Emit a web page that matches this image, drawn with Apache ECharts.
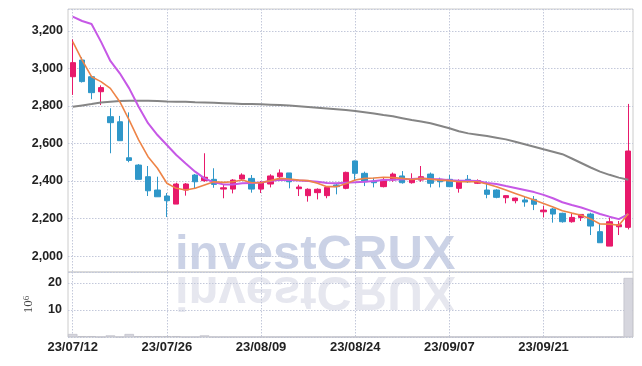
<!DOCTYPE html>
<html>
<head>
<meta charset="utf-8">
<script src="https://cdn.jsdelivr.net/npm/echarts@6/dist/echarts.min.js"></script>
<style>
  html, body { margin: 0; padding: 0; background: #fff; }
  #chart { width: 642px; height: 366px; }
</style>
</head>
<body>
<div id="chart"></div>
<script>
const dates = [
  "23/07/12", "23/07/13", "23/07/14", "23/07/17", "23/07/18", "23/07/19", "23/07/20", "23/07/21", "23/07/24", "23/07/25",
  "23/07/26", "23/07/27", "23/07/28", "23/07/31", "23/08/01", "23/08/02", "23/08/03", "23/08/04", "23/08/07", "23/08/08",
  "23/08/09", "23/08/10", "23/08/11", "23/08/14", "23/08/16", "23/08/17", "23/08/18", "23/08/21", "23/08/22", "23/08/23",
  "23/08/24", "23/08/25", "23/08/28", "23/08/29", "23/08/30", "23/08/31", "23/09/01", "23/09/04", "23/09/05", "23/09/06",
  "23/09/07", "23/09/08", "23/09/11", "23/09/12", "23/09/13", "23/09/14", "23/09/15", "23/09/18", "23/09/19", "23/09/20",
  "23/09/21", "23/09/22", "23/09/25", "23/09/26", "23/09/27", "23/10/04", "23/10/05", "23/10/06", "23/10/10", "23/10/11"
]

const opens = [
  2956, 3045, 2956, 2876, 2743, 2716, 2524, 2485, 2423, 2352,
  2320, 2277, 2352, 2432, 2402, 2409, 2357, 2357, 2411, 2414,
  2357, 2384, 2423, 2443, 2359, 2322, 2338, 2322, 2379, 2361,
  2507, 2441, 2400, 2370, 2405, 2427, 2391, 2405, 2437, 2409,
  2409, 2361, 2409, 2388, 2352, 2352, 2311, 2295, 2299, 2302,
  2236, 2251, 2228, 2183, 2206, 2224, 2130, 2053, 2156, 2153
]
const closes = [
  3031, 2930, 2871, 2898, 2711, 2615, 2510, 2409, 2348, 2316,
  2295, 2384, 2384, 2396, 2420, 2382, 2364, 2405, 2432, 2357,
  2393, 2427, 2443, 2396, 2368, 2356, 2356, 2366, 2370, 2446,
  2441, 2396, 2391, 2405, 2437, 2391, 2409, 2423, 2388, 2396,
  2370, 2400, 2396, 2402, 2329, 2313, 2322, 2309, 2288, 2276,
  2245, 2224, 2183, 2206, 2222, 2160, 2071, 2183, 2167, 2560
]
const lows = [
  2859, 2925, 2836, 2805, 2548, 2615, 2500, 2409, 2320, 2315,
  2208, 2277, 2322, 2361, 2396, 2364, 2308, 2334, 2405, 2338,
  2336, 2366, 2402, 2361, 2320, 2290, 2302, 2308, 2329, 2356,
  2405, 2373, 2366, 2366, 2396, 2386, 2386, 2396, 2366, 2366,
  2370, 2338, 2390, 2384, 2308, 2308, 2281, 2281, 2263, 2245,
  2206, 2178, 2178, 2178, 2187, 2112, 2071, 2053, 2112, 2142
]
const highs = [
  3155, 3060, 2960, 2910, 2788, 2747, 2766, 2490, 2480, 2423,
  2336, 2391, 2389, 2437, 2548, 2468, 2380, 2410, 2441, 2432,
  2400, 2436, 2462, 2443, 2380, 2361, 2361, 2368, 2388, 2450,
  2509, 2450, 2418, 2420, 2445, 2453, 2441, 2480, 2445, 2418,
  2432, 2409, 2432, 2409, 2398, 2356, 2324, 2312, 2320, 2320,
  2268, 2256, 2231, 2228, 2224, 2231, 2171, 2206, 2187, 2811
]

const ma5 = [
  3143, 3045, 2956, 2930, 2894, 2823, 2725, 2619, 2530, 2468,
  2388, 2361, 2352, 2361, 2379, 2396, 2393, 2396, 2405, 2391,
  2391, 2402, 2414, 2411, 2405, 2402, 2388, 2370, 2370, 2385,
  2405, 2414, 2416, 2420, 2418, 2414, 2408, 2414, 2410, 2405,
  2402, 2396, 2396, 2396, 2384, 2370, 2352, 2334, 2316, 2299,
  2280, 2262, 2242, 2229, 2218, 2198, 2171, 2170, 2164, 2226
]
const ma10 = [
  3276, 3253, 3237, 3143, 3040, 2974, 2894, 2796, 2708, 2645,
  2592, 2539, 2494, 2450, 2414, 2393, 2382, 2382, 2388, 2390,
  2392, 2400, 2407, 2405, 2403, 2400, 2396, 2390, 2388, 2391,
  2393, 2396, 2400, 2405, 2407, 2410, 2411, 2414, 2411, 2409,
  2404, 2402, 2402, 2400, 2389, 2384, 2373, 2363, 2352, 2341,
  2326, 2308, 2287, 2272, 2259, 2242, 2224, 2210, 2197, 2224
]
const ma60 = [
  2796, 2803, 2810, 2818, 2823, 2826, 2828, 2828, 2828, 2826,
  2824, 2823, 2822, 2820, 2819, 2817, 2815, 2813, 2811, 2810,
  2809, 2807, 2805, 2802, 2799, 2795, 2791, 2787, 2783, 2778,
  2773, 2767, 2760, 2752, 2745, 2735, 2725, 2717, 2708, 2695,
  2681, 2665, 2654, 2647, 2640, 2631, 2622, 2609, 2596, 2583,
  2569, 2556, 2543, 2520, 2496, 2472, 2450, 2433, 2418, 2407
]

// volume in millions
const volumes = [
  1.1, 0.3, 0.3, 0.05, 0.6, 0.05, 1.1, 0.3, 0.3, 0.3,
  0.3, 0.3, 0.05, 0.05, 0.6, 0.05, 0.05, 0.05, 0.05, 0.05,
  0.05, 0.05, 0.05, 0.05, 0.05, 0.05, 0.05, 0.05, 0.05, 0.05,
  0.05, 0.05, 0.05, 0.05, 0.05, 0.05, 0.05, 0.05, 0.05, 0.05,
  0.05, 0.05, 0.05, 0.05, 0.05, 0.05, 0.05, 0.05, 0.05, 0.05,
  0.05, 0.05, 0.05, 0.05, 0.05, 0.05, 0.05, 0.05, 0.05, 21.8
]

const candles = dates.map((d, i) => [opens[i], closes[i], lows[i], highs[i]])

const gridLine = { show: true, lineStyle: { color: "#c3c8da", type: [1.5, 1.5], width: 1 } }
const yLabel = { fontFamily: "Liberation Sans", fontWeight: "bold", fontSize: 12.5, color: "#222" }

const chart = echarts.init(document.getElementById("chart"))

chart.setOption({
  animation: false,
  graphic: [
    {
      type: "text",
      x: 175,
      y: 255,
      z: -1,
      style: {
        text: "investCRUX",
        font: "bold 49px 'Liberation Sans', sans-serif",
        fill: "#cbd2e6",
        verticalAlign: "middle",
      },
    },
    {
      type: "text",
      x: 175,
      y: 290.5,
      scaleY: -1,
      z: -1,
      style: {
        text: "investCRUX",
        font: "bold 49px 'Liberation Sans', sans-serif",
        fill: "#e6e7ef",
        verticalAlign: "middle",
      },
    },
  ],
  grid: [
    { left: 68, top: 9, width: 565, height: 263, show: true, borderColor: "#cccccc", borderWidth: 1 },
    { left: 68, top: 272, width: 565, height: 65, show: true, borderColor: "#cccccc", borderWidth: 1 },
  ],
  xAxis: [
    {
      type: "category",
      gridIndex: 0,
      data: dates,
      boundaryGap: true,
      axisLine: { show: false },
      axisTick: { show: false },
      axisLabel: { show: false },
      splitLine: { ...gridLine, interval: 9, alignWithLabel: true },
    },
    {
      type: "category",
      gridIndex: 1,
      data: dates,
      boundaryGap: true,
      axisLine: { show: false },
      axisTick: { show: false },
      axisLabel: {
        interval: 9,
        margin: 4,
        fontFamily: "'Liberation Sans', sans-serif",
        fontWeight: "bold",
        fontSize: 13,
        color: "#222",
      },
      splitLine: { ...gridLine, interval: 9, alignWithLabel: true },
    },
  ],
  yAxis: [
    {
      type: "value",
      gridIndex: 0,
      min: 1915,
      max: 3317,
      splitNumber: 7,
      minInterval: 200,
      maxInterval: 200,
      axisLine: { show: false },
      axisTick: { show: false },
      axisLabel: {
        ...yLabel,
        margin: 5,
        showMinLabel: false,
        showMaxLabel: false,
        formatter: (v) => v.toLocaleString("en-US"),
      },
      splitLine: gridLine,
    },
    {
      type: "value",
      gridIndex: 1,
      min: 0,
      max: 24,
      interval: 10,
      axisLine: { show: false },
      axisTick: { show: false },
      axisLabel: { ...yLabel, margin: 6, showMinLabel: false, showMaxLabel: false },
      splitLine: gridLine,
      name: "{a|10}{b|6}",
      nameLocation: "middle",
      nameRotate: 90,
      nameGap: 33,
      nameTextStyle: {
        rich: {
          a: { fontFamily: "'Liberation Serif', serif", fontSize: 13, color: "#444" },
          b: { fontFamily: "'Liberation Serif', serif", fontSize: 9, color: "#444", verticalAlign: "top" },
        },
      },
    },
  ],
  series: [
    {
      name: "price",
      type: "candlestick",
      xAxisIndex: 0,
      yAxisIndex: 0,
      barWidth: "62%",
      data: candles,
      itemStyle: {
        color: "#e8196b",
        color0: "#2f97c9",
        borderColor: "#e8196b",
        borderColor0: "#2f97c9",
        borderWidth: 1,
      },
    },
    {
      name: "MA60",
      type: "line",
      xAxisIndex: 0,
      yAxisIndex: 0,
      data: ma60,
      symbol: "none",
      lineStyle: { color: "#858585", width: 2 },
    },
    {
      name: "MA10",
      type: "line",
      xAxisIndex: 0,
      yAxisIndex: 0,
      data: ma10,
      symbol: "none",
      lineStyle: { color: "#c658e6", width: 2 },
    },
    {
      name: "MA5",
      type: "line",
      xAxisIndex: 0,
      yAxisIndex: 0,
      data: ma5,
      symbol: "none",
      lineStyle: { color: "#ee8447", width: 1.6 },
    },
    {
      name: "volume",
      type: "bar",
      xAxisIndex: 1,
      yAxisIndex: 1,
      data: volumes,
      barWidth: "100%",
      itemStyle: { color: "#d6d6de", borderColor: "#b9b9c2", borderWidth: 0.6 },
    },
  ],
})
</script>
</body>
</html>
